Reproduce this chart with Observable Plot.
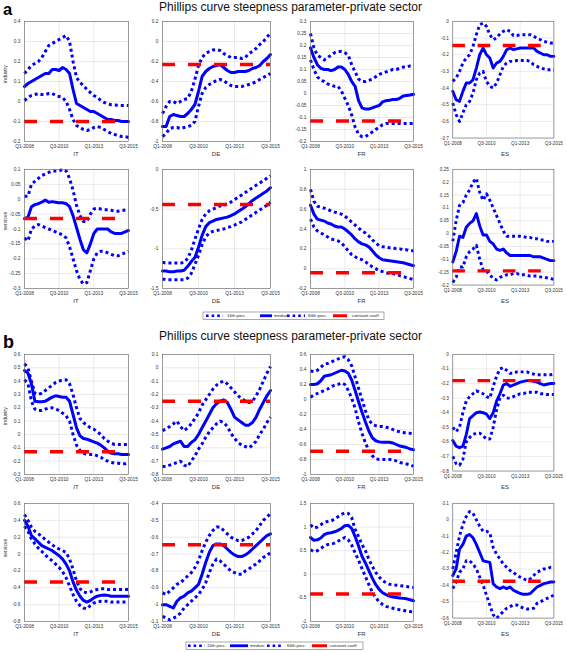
<!DOCTYPE html>
<html><head><meta charset="utf-8">
<script src="https://cdn.jsdelivr.net/npm/d3@7"></script>
<script src="https://cdn.jsdelivr.net/npm/@observablehq/plot@0.6"></script>
<style>
body{margin:0;background:#fff;}
#root{position:relative;width:567px;height:652px;background:#fff;overflow:hidden;font-family:"Liberation Sans",Arial,sans-serif;}
</style></head><body><div id="root"></div>
<script>
// ---------- text ----------
const titleText = "Phillips curve steepness parameter-private sector";
const sectionLabels = ["a","b"];
const countries = ["IT","DE","FR","ES"];
const sectors = ["industry","services"];
const xTickIndex = [0,10,20,30];
const xTickLabels = ["Q1-2008","Q3-2010","Q1-2013","Q3-2015"];
const legendLabels = ["16th perc.","median","84th perc.","constant coeff"];

// ---------- constant coefficients ----------
const aIndConst = [-0.1,-0.23,-0.115,-0.145];
const aSrvConst = [-0.065,-0.44,-0.04,-0.145];
const bIndConst = [-0.13,-0.25,-0.69,-0.18];
const bSrvConst = [-0.33,-0.645,-0.42,-0.375];

// ---------- panel a, industry ----------
const aIndITp84 = [0.14,0.16,0.18,0.19,0.2,0.22,0.25,0.28,0.29,0.3,0.31,0.32,0.33,0.3,0.2,0.12,0.095,0.08,0.06,0.045,0.03,0.02,0.005,-0.005,-0.012,-0.016,-0.018,-0.019,-0.02,-0.02,-0.02];
const aIndITmed = [0.075,0.09,0.1,0.11,0.12,0.13,0.14,0.14,0.16,0.16,0.155,0.17,0.16,0.14,0.06,-0.01,-0.02,-0.03,-0.04,-0.05,-0.05,-0.06,-0.07,-0.08,-0.09,-0.09,-0.095,-0.095,-0.1,-0.1,-0.1];
const aIndITp16 = [0.005,0.02,0.03,0.035,0.04,0.035,0.035,0.04,0.04,0.03,0.025,0.02,0.0,-0.04,-0.09,-0.12,-0.13,-0.14,-0.145,-0.14,-0.13,-0.125,-0.13,-0.14,-0.15,-0.16,-0.165,-0.17,-0.175,-0.175,-0.18];
const aIndDEp84 = [-0.72,-0.65,-0.6,-0.6,-0.62,-0.6,-0.58,-0.57,-0.5,-0.38,-0.24,-0.16,-0.12,-0.1,-0.085,-0.08,-0.09,-0.12,-0.14,-0.16,-0.16,-0.16,-0.17,-0.16,-0.12,-0.1,-0.07,-0.03,0.0,0.04,0.09];
const aIndDEmed = [-0.85,-0.85,-0.75,-0.73,-0.74,-0.75,-0.75,-0.72,-0.68,-0.63,-0.5,-0.35,-0.3,-0.27,-0.25,-0.24,-0.23,-0.26,-0.29,-0.31,-0.31,-0.3,-0.3,-0.3,-0.29,-0.27,-0.26,-0.24,-0.2,-0.17,-0.13];
const aIndDEp16 = [-0.95,-0.92,-0.87,-0.86,-0.86,-0.87,-0.86,-0.85,-0.84,-0.8,-0.65,-0.52,-0.46,-0.43,-0.41,-0.39,-0.38,-0.39,-0.42,-0.44,-0.45,-0.45,-0.45,-0.44,-0.43,-0.42,-0.4,-0.38,-0.36,-0.34,-0.32];
const aIndFRp84 = [0.25,0.19,0.16,0.15,0.14,0.15,0.16,0.17,0.175,0.175,0.17,0.16,0.12,0.09,0.06,0.05,0.05,0.055,0.06,0.07,0.08,0.085,0.09,0.095,0.1,0.1,0.105,0.11,0.11,0.115,0.115];
const aIndFRmed = [0.19,0.15,0.12,0.105,0.1,0.1,0.095,0.1,0.11,0.11,0.1,0.08,0.05,0.03,-0.03,-0.06,-0.065,-0.065,-0.06,-0.055,-0.05,-0.035,-0.03,-0.028,-0.025,-0.025,-0.02,-0.01,-0.008,-0.006,-0.003];
const aIndFRp16 = [0.14,0.1,0.07,0.055,0.05,0.04,0.035,0.03,0.03,0.01,-0.02,-0.05,-0.09,-0.14,-0.17,-0.18,-0.18,-0.17,-0.16,-0.15,-0.14,-0.13,-0.125,-0.125,-0.125,-0.125,-0.125,-0.125,-0.125,-0.125,-0.125];
const aIndESp84 = [-0.36,-0.34,-0.3,-0.25,-0.22,-0.2,-0.15,-0.08,-0.02,-0.01,-0.03,-0.08,-0.11,-0.1,-0.075,-0.06,-0.05,-0.06,-0.085,-0.085,-0.08,-0.08,-0.08,-0.08,-0.09,-0.1,-0.11,-0.12,-0.125,-0.13,-0.13];
const aIndESmed = [-0.42,-0.47,-0.48,-0.42,-0.37,-0.37,-0.35,-0.28,-0.2,-0.16,-0.2,-0.22,-0.28,-0.25,-0.24,-0.21,-0.17,-0.16,-0.17,-0.165,-0.16,-0.16,-0.16,-0.16,-0.16,-0.18,-0.19,-0.2,-0.2,-0.21,-0.21];
const aIndESp16 = [-0.49,-0.56,-0.6,-0.55,-0.5,-0.48,-0.43,-0.35,-0.31,-0.3,-0.36,-0.39,-0.4,-0.37,-0.32,-0.27,-0.25,-0.24,-0.24,-0.235,-0.235,-0.235,-0.235,-0.24,-0.26,-0.27,-0.28,-0.285,-0.29,-0.29,-0.29];

// ---------- panel a, services ----------
const aSrvITp84 = [0.01,0.01,0.05,0.06,0.07,0.08,0.085,0.09,0.095,0.095,0.095,0.1,0.095,0.07,0.03,-0.02,-0.055,-0.075,-0.075,-0.05,-0.033,-0.03,-0.033,-0.035,-0.035,-0.037,-0.04,-0.04,-0.038,-0.036,-0.035];
const aSrvITmed = [-0.065,-0.06,-0.025,-0.018,-0.015,-0.01,-0.003,-0.01,-0.008,-0.01,-0.012,-0.012,-0.015,-0.025,-0.055,-0.095,-0.135,-0.17,-0.18,-0.15,-0.115,-0.1,-0.1,-0.1,-0.1,-0.11,-0.115,-0.115,-0.115,-0.11,-0.105];
const aSrvITp16 = [-0.13,-0.14,-0.1,-0.09,-0.085,-0.09,-0.095,-0.1,-0.105,-0.11,-0.115,-0.12,-0.13,-0.16,-0.2,-0.24,-0.27,-0.285,-0.28,-0.24,-0.2,-0.18,-0.175,-0.175,-0.18,-0.185,-0.19,-0.19,-0.185,-0.18,-0.175];
const aSrvDEp84 = [-1.17,-1.18,-1.18,-1.18,-1.18,-1.18,-1.17,-1.12,-1.02,-0.88,-0.75,-0.63,-0.56,-0.52,-0.5,-0.48,-0.46,-0.45,-0.43,-0.41,-0.38,-0.35,-0.32,-0.29,-0.26,-0.23,-0.2,-0.17,-0.14,-0.11,-0.08];
const aSrvDEmed = [-1.28,-1.28,-1.29,-1.29,-1.28,-1.28,-1.27,-1.22,-1.16,-1.11,-0.98,-0.83,-0.72,-0.67,-0.65,-0.63,-0.62,-0.61,-0.6,-0.58,-0.56,-0.53,-0.5,-0.47,-0.43,-0.39,-0.36,-0.33,-0.3,-0.27,-0.23];
const aSrvDEp16 = [-1.38,-1.39,-1.39,-1.39,-1.39,-1.39,-1.39,-1.37,-1.31,-1.2,-1.08,-0.95,-0.85,-0.8,-0.78,-0.77,-0.76,-0.75,-0.73,-0.72,-0.7,-0.68,-0.66,-0.63,-0.6,-0.57,-0.54,-0.51,-0.48,-0.45,-0.41];
const aSrvFRp84 = [0.8,0.68,0.63,0.62,0.61,0.6,0.58,0.57,0.56,0.55,0.53,0.5,0.47,0.44,0.41,0.38,0.36,0.33,0.29,0.26,0.23,0.22,0.22,0.21,0.21,0.2,0.2,0.19,0.19,0.18,0.18];
const aSrvFRmed = [0.64,0.55,0.5,0.49,0.48,0.46,0.45,0.43,0.42,0.42,0.4,0.37,0.34,0.3,0.27,0.25,0.24,0.22,0.18,0.14,0.11,0.09,0.085,0.08,0.075,0.07,0.065,0.06,0.05,0.04,0.03];
const aSrvFRp16 = [0.5,0.42,0.38,0.36,0.34,0.32,0.3,0.29,0.28,0.26,0.22,0.18,0.14,0.12,0.1,0.09,0.07,0.04,0.02,0.0,-0.02,-0.03,-0.04,-0.05,-0.05,-0.06,-0.07,-0.08,-0.09,-0.1,-0.11];
const aSrvESp84 = [-0.03,0.05,0.11,0.12,0.15,0.17,0.2,0.215,0.16,0.13,0.155,0.13,0.1,0.07,0.04,0.01,-0.01,-0.01,-0.01,-0.01,-0.01,-0.012,-0.015,-0.015,-0.02,-0.02,-0.025,-0.025,-0.03,-0.03,-0.03];
const aSrvESmed = [-0.11,-0.07,-0.01,-0.015,0.025,0.04,0.05,0.078,0.03,-0.005,-0.005,-0.03,-0.04,-0.06,-0.065,-0.06,-0.075,-0.085,-0.085,-0.085,-0.085,-0.085,-0.085,-0.085,-0.09,-0.09,-0.09,-0.095,-0.1,-0.105,-0.105];
const aSrvESp16 = [-0.19,-0.17,-0.13,-0.13,-0.09,-0.07,-0.06,-0.045,-0.1,-0.14,-0.145,-0.16,-0.175,-0.18,-0.17,-0.165,-0.16,-0.16,-0.155,-0.155,-0.16,-0.16,-0.162,-0.165,-0.165,-0.165,-0.168,-0.17,-0.172,-0.175,-0.178];

// ---------- panel b, industry ----------
const bIndITp84 = [0.53,0.5,0.4,0.31,0.3,0.31,0.33,0.35,0.37,0.39,0.4,0.41,0.41,0.38,0.3,0.2,0.12,0.09,0.07,0.05,0.04,0.02,0.0,-0.03,-0.05,-0.065,-0.075,-0.075,-0.075,-0.075,-0.075];
const bIndITmed = [0.48,0.46,0.38,0.25,0.245,0.245,0.25,0.265,0.28,0.29,0.285,0.28,0.28,0.25,0.15,0.05,-0.01,-0.03,-0.035,-0.045,-0.055,-0.065,-0.08,-0.1,-0.125,-0.14,-0.145,-0.145,-0.15,-0.15,-0.15];
const bIndITp16 = [0.41,0.38,0.25,0.19,0.18,0.18,0.19,0.2,0.2,0.19,0.18,0.16,0.14,0.1,0.0,-0.08,-0.12,-0.14,-0.15,-0.15,-0.15,-0.16,-0.17,-0.19,-0.2,-0.21,-0.215,-0.215,-0.22,-0.22,-0.21];
const bIndDEp84 = [-0.47,-0.46,-0.44,-0.42,-0.4,-0.44,-0.47,-0.45,-0.42,-0.38,-0.34,-0.28,-0.24,-0.2,-0.16,-0.13,-0.11,-0.1,-0.12,-0.15,-0.18,-0.21,-0.23,-0.25,-0.26,-0.25,-0.21,-0.16,-0.1,-0.04,0.01];
const bIndDEmed = [-0.61,-0.6,-0.59,-0.57,-0.56,-0.55,-0.59,-0.59,-0.56,-0.54,-0.5,-0.45,-0.4,-0.35,-0.3,-0.27,-0.25,-0.24,-0.26,-0.31,-0.37,-0.39,-0.41,-0.43,-0.43,-0.41,-0.37,-0.31,-0.26,-0.21,-0.17];
const bIndDEp16 = [-0.74,-0.74,-0.73,-0.72,-0.71,-0.7,-0.73,-0.74,-0.7,-0.66,-0.61,-0.57,-0.52,-0.48,-0.45,-0.42,-0.4,-0.41,-0.44,-0.49,-0.53,-0.56,-0.58,-0.59,-0.6,-0.58,-0.55,-0.5,-0.46,-0.41,-0.37];
const bIndFRp84 = [0.38,0.37,0.39,0.43,0.47,0.48,0.5,0.52,0.54,0.56,0.57,0.53,0.45,0.3,0.15,0.0,-0.15,-0.27,-0.33,-0.35,-0.36,-0.36,-0.37,-0.38,-0.4,-0.42,-0.43,-0.44,-0.45,-0.45,-0.46];
const bIndFRmed = [0.2,0.2,0.21,0.25,0.31,0.32,0.33,0.35,0.37,0.39,0.38,0.35,0.26,0.12,-0.03,-0.17,-0.3,-0.42,-0.51,-0.55,-0.565,-0.57,-0.57,-0.57,-0.58,-0.6,-0.62,-0.63,-0.64,-0.66,-0.67];
const bIndFRp16 = [0.03,0.06,0.08,0.1,0.12,0.14,0.17,0.19,0.2,0.22,0.2,0.12,0.02,-0.12,-0.3,-0.45,-0.58,-0.68,-0.75,-0.79,-0.8,-0.8,-0.8,-0.8,-0.8,-0.82,-0.84,-0.85,-0.86,-0.87,-0.89];
const bIndESp84 = [-0.5,-0.53,-0.5,-0.4,-0.32,-0.29,-0.27,-0.25,-0.26,-0.27,-0.29,-0.3,-0.22,-0.15,-0.1,-0.09,-0.11,-0.13,-0.13,-0.12,-0.12,-0.12,-0.12,-0.13,-0.135,-0.14,-0.14,-0.14,-0.14,-0.14,-0.135];
const bIndESmed = [-0.59,-0.63,-0.64,-0.63,-0.55,-0.44,-0.42,-0.4,-0.395,-0.4,-0.41,-0.44,-0.4,-0.32,-0.27,-0.21,-0.2,-0.22,-0.21,-0.2,-0.19,-0.185,-0.18,-0.18,-0.185,-0.19,-0.2,-0.21,-0.205,-0.2,-0.2];
const bIndESp16 = [-0.7,-0.75,-0.76,-0.72,-0.6,-0.57,-0.55,-0.54,-0.54,-0.56,-0.58,-0.58,-0.5,-0.38,-0.3,-0.28,-0.3,-0.3,-0.29,-0.28,-0.27,-0.27,-0.26,-0.26,-0.26,-0.26,-0.27,-0.27,-0.275,-0.275,-0.275];

// ---------- panel b, services ----------
const bSrvITp84 = [0.47,0.4,0.32,0.27,0.24,0.21,0.17,0.14,0.11,0.08,0.06,0.04,0.02,-0.06,-0.18,-0.32,-0.41,-0.45,-0.46,-0.45,-0.43,-0.42,-0.41,-0.41,-0.42,-0.42,-0.42,-0.42,-0.42,-0.42,-0.42];
const bSrvITmed = [0.4,0.33,0.22,0.18,0.14,0.1,0.08,0.06,0.04,0.01,-0.02,-0.06,-0.12,-0.2,-0.33,-0.43,-0.5,-0.55,-0.57,-0.55,-0.52,-0.5,-0.49,-0.485,-0.49,-0.5,-0.5,-0.5,-0.5,-0.5,-0.5];
const bSrvITp16 = [0.33,0.27,0.18,0.12,0.07,0.03,-0.01,-0.05,-0.08,-0.12,-0.16,-0.21,-0.28,-0.38,-0.48,-0.56,-0.61,-0.64,-0.65,-0.61,-0.58,-0.57,-0.56,-0.56,-0.56,-0.57,-0.57,-0.57,-0.57,-0.57,-0.57];
const bSrvDEp84 = [-0.93,-0.94,-0.92,-0.9,-0.88,-0.87,-0.85,-0.83,-0.81,-0.78,-0.74,-0.68,-0.63,-0.59,-0.56,-0.54,-0.54,-0.56,-0.58,-0.6,-0.61,-0.62,-0.62,-0.61,-0.6,-0.58,-0.56,-0.53,-0.5,-0.48,-0.46];
const bSrvDEmed = [-1.0,-1.0,-1.01,-1.02,-0.98,-0.96,-0.95,-0.93,-0.92,-0.9,-0.88,-0.82,-0.75,-0.69,-0.65,-0.64,-0.64,-0.65,-0.67,-0.69,-0.705,-0.715,-0.715,-0.705,-0.69,-0.67,-0.65,-0.63,-0.61,-0.59,-0.58];
const bSrvDEp16 = [-1.07,-1.08,-1.09,-1.08,-1.07,-1.05,-1.02,-1.0,-0.98,-0.96,-0.94,-0.91,-0.87,-0.81,-0.76,-0.73,-0.74,-0.76,-0.78,-0.8,-0.81,-0.82,-0.82,-0.8,-0.79,-0.77,-0.76,-0.74,-0.72,-0.71,-0.69];
const bSrvFRp84 = [1.05,0.98,1.0,1.05,1.1,1.12,1.13,1.17,1.22,1.27,1.3,1.29,1.2,0.95,0.8,0.63,0.5,0.32,0.17,0.04,-0.06,-0.13,-0.18,-0.21,-0.22,-0.23,-0.24,-0.25,-0.26,-0.27,-0.28];
const bSrvFRmed = [0.78,0.72,0.73,0.77,0.84,0.87,0.88,0.9,0.93,0.97,1.03,1.04,0.97,0.8,0.6,0.38,0.24,0.08,-0.08,-0.22,-0.32,-0.39,-0.43,-0.46,-0.48,-0.49,-0.5,-0.51,-0.52,-0.54,-0.56];
const bSrvFRp16 = [0.52,0.48,0.5,0.55,0.6,0.63,0.64,0.66,0.7,0.74,0.78,0.73,0.62,0.45,0.3,0.12,-0.05,-0.22,-0.38,-0.5,-0.58,-0.64,-0.68,-0.7,-0.72,-0.74,-0.75,-0.76,-0.78,-0.79,-0.8];
const bSrvESp84 = [-0.3,-0.2,-0.1,-0.03,0.02,0.05,0.04,0.0,-0.04,-0.07,-0.07,-0.08,-0.17,-0.21,-0.24,-0.27,-0.29,-0.31,-0.32,-0.34,-0.35,-0.36,-0.37,-0.36,-0.34,-0.32,-0.31,-0.3,-0.3,-0.29,-0.29];
const bSrvESmed = [-0.34,-0.3,-0.18,-0.15,-0.1,-0.09,-0.11,-0.15,-0.2,-0.25,-0.255,-0.26,-0.39,-0.41,-0.42,-0.41,-0.42,-0.41,-0.43,-0.44,-0.45,-0.455,-0.455,-0.45,-0.43,-0.41,-0.4,-0.39,-0.385,-0.38,-0.38];
const bSrvESp16 = [-0.42,-0.38,-0.32,-0.3,-0.25,-0.25,-0.27,-0.3,-0.35,-0.4,-0.46,-0.52,-0.58,-0.6,-0.58,-0.56,-0.54,-0.53,-0.52,-0.52,-0.53,-0.54,-0.545,-0.545,-0.54,-0.51,-0.5,-0.49,-0.48,-0.47,-0.46];

// ---------- y scale settings (domain, tick step) ----------
const aIndY = [[[-0.2,0.4],0.1],[[-1,0.2],0.2],[[-0.2,0.3],0.05],[[-0.7,0],0.1]];
const aSrvY = [[[-0.3,0.1],0.05],[[-1.5,0],0.5],[[-0.2,1],0.2],[[-0.2,0.25],0.05]];
const bIndY = [[[-0.3,0.6],0.1],[[-0.8,0.1],0.1],[[-1,0.6],0.2],[[-0.8,0],0.1]];
const bSrvY = [[[-0.8,0.6],0.2],[[-1.1,-0.4],0.1],[[-1,1.5],0.5],[[-0.6,0.1],0.1]];

const rowsData = [
  {p84:[aIndITp84,aIndDEp84,aIndFRp84,aIndESp84], med:[aIndITmed,aIndDEmed,aIndFRmed,aIndESmed], p16:[aIndITp16,aIndDEp16,aIndFRp16,aIndESp16], c:aIndConst, y:aIndY, sector:0},
  {p84:[aSrvITp84,aSrvDEp84,aSrvFRp84,aSrvESp84], med:[aSrvITmed,aSrvDEmed,aSrvFRmed,aSrvESmed], p16:[aSrvITp16,aSrvDEp16,aSrvFRp16,aSrvESp16], c:aSrvConst, y:aSrvY, sector:1},
  {p84:[bIndITp84,bIndDEp84,bIndFRp84,bIndESp84], med:[bIndITmed,bIndDEmed,bIndFRmed,bIndESmed], p16:[bIndITp16,bIndDEp16,bIndFRp16,bIndESp16], c:bIndConst, y:bIndY, sector:0},
  {p84:[bSrvITp84,bSrvDEp84,bSrvFRp84,bSrvESp84], med:[bSrvITmed,bSrvDEmed,bSrvFRmed,bSrvESmed], p16:[bSrvITp16,bSrvDEp16,bSrvFRp16,bSrvESp16], c:bSrvConst, y:bSrvY, sector:1}
];

// ---------- layout ----------
const FONT = "'Liberation Sans', Arial, sans-serif";
const BLUE = "#0000ff", RED = "#ff0000";
const colFrames = [[24,128],[162,270],[310,413],[453,557]];
const rowFrames = [[21,141],[169,288],[354,474],[503,621]];
const yLabelCenters = [74,221,416,548];

const root = document.getElementById("root");
const fmt = v => String(+v.toFixed(3));

function makePanel(r, c) {
  const rd = rowsData[r];
  const [dom, step] = rd.y[c];
  const [x0, x1] = colFrames[c];
  const [y0, y1] = rowFrames[r];
  const mL = 26, mR = 14, mT = 4, mB = 10;
  const n = Math.round((dom[1] - dom[0]) / step);
  const yTicks = d3.range(n + 1).map(i => +(dom[0] + i * step).toFixed(4));
  const svg = Plot.plot({
    width: x1 - x0 + mL + mR,
    height: y1 - y0 + mT + mB,
    marginLeft: mL, marginRight: mR, marginTop: mT, marginBottom: mB,
    x: {domain: [0, 30]},
    y: {domain: dom},
    style: {background: "transparent", overflow: "visible", fontFamily: FONT, color: "#333"},
    marks: [
      Plot.gridX(xTickIndex, {stroke: "#dcdcdc", strokeOpacity: 1, strokeWidth: 0.6}),
      Plot.gridY(yTicks, {stroke: "#dcdcdc", strokeOpacity: 1, strokeWidth: 0.6}),
      Plot.lineY(rd.p16[c], {stroke: BLUE, strokeWidth: 3, strokeDasharray: "3,3", strokeLinecap: "butt"}),
      Plot.lineY(rd.med[c], {stroke: BLUE, strokeWidth: 3}),
      Plot.lineY(rd.p84[c], {stroke: BLUE, strokeWidth: 3, strokeDasharray: "3,3", strokeLinecap: "butt"}),
      Plot.ruleY([rd.c[c]], {stroke: RED, strokeWidth: 3.5, strokeDasharray: "13,13"}),
      Plot.frame({stroke: "#666", strokeWidth: 0.6}),
      Plot.axisX(xTickIndex, {tickFormat: d => xTickLabels[xTickIndex.indexOf(d)], tickSize: 0, tickPadding: 3.5, fontSize: 4.8, label: null}),
      Plot.axisY(yTicks, {tickFormat: fmt, tickSize: 0, tickPadding: 4, fontSize: 4.8, label: null})
    ]
  });
  const wrap = document.createElement("div");
  wrap.style.cssText = `position:absolute;left:${x0 - mL}px;top:${y0 - mT}px;`;
  wrap.appendChild(svg);
  root.appendChild(wrap);
}

for (let r = 0; r < 4; r++) for (let c = 0; c < 4; c++) makePanel(r, c);

// ---------- text overlay ----------
const ov = d3.select(root).append("svg")
  .attr("width", 567).attr("height", 652)
  .style("position", "absolute").style("left", "0px").style("top", "0px")
  .style("font-family", FONT).style("pointer-events", "none");

[[15, 10.5, 16.5], [348, 340, 18]].forEach(([by, ty, fs], i) => {
  ov.append("text").attr("x", 3).attr("y", by).attr("font-size", fs).attr("font-weight", "bold").attr("fill", "#000").text(sectionLabels[i]);
  ov.append("text").attr("x", 290.5).attr("y", ty).attr("font-size", 12).attr("text-anchor", "middle").attr("fill", "#111").text(titleText);
});

rowFrames.forEach(([y0, y1], r) => {
  colFrames.forEach(([x0, x1], c) => {
    ov.append("text").attr("x", (x0 + x1) / 2).attr("y", y1 + 15).attr("font-size", 6).attr("text-anchor", "middle").attr("fill", "#333").text(countries[c]);
  });
  ov.append("text").attr("transform", `translate(6.5,${yLabelCenters[r]}) rotate(-90)`).attr("font-size", 5).attr("text-anchor", "middle").attr("fill", "#333").text(sectors[rowsData[r].sector]);
});

// legends: [left, top, width, sample ranges + text starts]
const legendDefs = [
  {x: 203, y: 312, w: 181, items: [[3,20,24],[57,69,71],[84,102,105],[130,144,149]]},
  {x: 186, y: 642, w: 177, items: [[2,19,21],[44,62,64],[81,97,101],[126,141,144]]}
];
const legendStyle = [
  {stroke: BLUE, width: 2.6, dash: "2.6,3"},
  {stroke: BLUE, width: 2.8, dash: null},
  {stroke: BLUE, width: 2.6, dash: "2.6,3"},
  {stroke: RED, width: 3, dash: null}
];
legendDefs.forEach(L => {
  const g = ov.append("g").attr("transform", `translate(${L.x},${L.y})`);
  g.append("rect").attr("x", 0).attr("y", 0).attr("width", L.w).attr("height", 7.5).attr("fill", "#fff").attr("stroke", "#555").attr("stroke-width", 0.5);
  L.items.forEach(([a, b, t], i) => {
    const s = legendStyle[i];
    const ln = g.append("line").attr("x1", a).attr("x2", b).attr("y1", 3.75).attr("y2", 3.75).attr("stroke", s.stroke).attr("stroke-width", s.width);
    if (s.dash) ln.attr("stroke-dasharray", s.dash);
    g.append("text").attr("x", t).attr("y", 5.3).attr("font-size", 4.3).attr("fill", "#222").text(legendLabels[i]);
  });
});
</script></body></html>
